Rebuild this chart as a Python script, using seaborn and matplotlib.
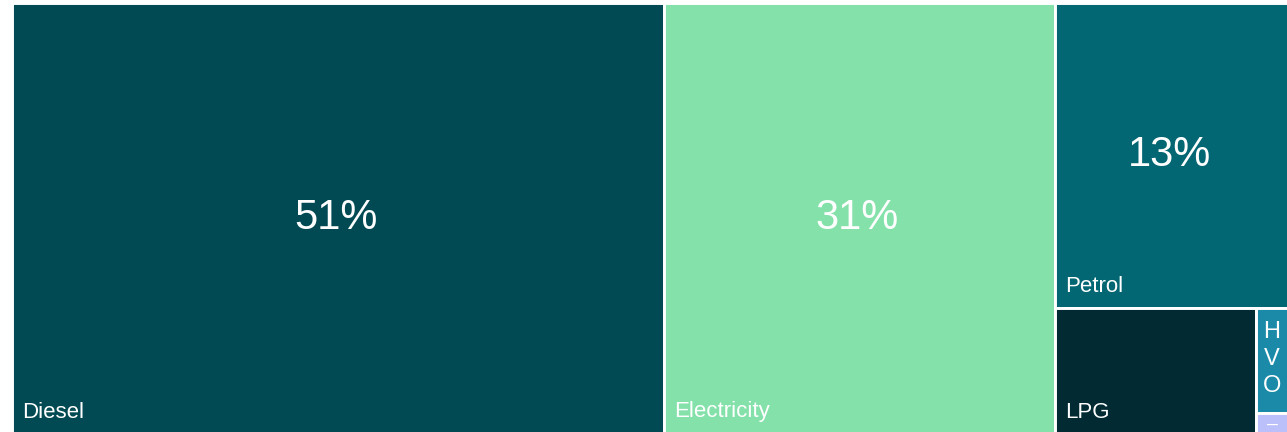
import matplotlib
matplotlib.use("Agg")
import matplotlib.pyplot as plt
from matplotlib.patches import Rectangle
import seaborn as sns

# fuel share data (percent of total)
fuels = ["Diesel", "Electricity", "Petrol", "LPG", "HVO", "Other"]
shares = [51.1, 30.6, 12.95, 4.6, 0.61, 0.12]
tile_labels = ["Diesel", "Electricity", "Petrol", "LPG", "H\nV\nO", "–"]
colors = ["#024a53", "#84e1aa", "#036673", "#012a32", "#1a8aa8", "#bcc0fa"]

W, H = 1276, 431  # layout canvas in pixels (runs slightly past the figure edge)


def layout(sizes, x, y, dx, dy):
    rects = []
    covered = sum(sizes)
    if dx >= dy:
        width = covered / dy
        for s in sizes:
            rects.append((x, y, width, s / width))
            y += s / width
    else:
        height = covered / dx
        for s in sizes:
            rects.append((x, y, s / height, height))
            x += s / height
    return rects


def leftover(sizes, x, y, dx, dy):
    covered = sum(sizes)
    if dx >= dy:
        width = covered / dy
        return x + width, y, dx - width, dy
    height = covered / dx
    return x, y + height, dx, dy - height


def worst(sizes, x, y, dx, dy):
    return max(max(w / h, h / w) for _, _, w, h in layout(sizes, x, y, dx, dy))


def squarify(sizes, x, y, dx, dy):
    if not sizes:
        return []
    if len(sizes) == 1:
        return layout(sizes, x, y, dx, dy)
    i = 1
    while i < len(sizes) and worst(sizes[:i], x, y, dx, dy) >= worst(sizes[:i + 1], x, y, dx, dy):
        i += 1
    current, remaining = sizes[:i], sizes[i:]
    return layout(current, x, y, dx, dy) + squarify(remaining, *leftover(current, x, y, dx, dy))


total = sum(shares)
areas = [s / total * W * H for s in shares]
rects = squarify(areas, 0, 0, W, H)

sns.set_theme(style="white")
plt.rcParams["font.family"] = ["Liberation Sans", "DejaVu Sans"]

fig = plt.figure(figsize=(12.87, 4.32), dpi=100)
ax = fig.add_axes([12 / 1287, -1.5 / 432, W / 1287, H / 432])
ax.set_xlim(0, W)
ax.set_ylim(H, 0)
ax.axis("off")

for (x, y, w, h), name, lab, col, s in zip(rects, fuels, tile_labels, colors, shares):
    ax.add_patch(Rectangle((x, y), w, h, facecolor=col, edgecolor="white", linewidth=2.1))
    pct = s / total * 100
    if pct >= 10:
        ax.text(x + w / 2 - 2, y + h / 2, f"{pct:.0f}%", color="white", fontsize=30,
                ha="center", va="center")
    if name == "HVO":
        ax.text(x + w / 2, y + 13, lab, color="white", fontsize=17, ha="center", va="top",
                linespacing=1.3)
    elif name == "Other":
        ax.text(x + w / 2, y + 3, lab, color="white", fontsize=14, ha="center", va="top")
    else:
        ax.text(x + 10, y + h - 16, lab, color="white", fontsize=16, ha="left", va="baseline")

fig.savefig("out.png", dpi=100, facecolor="white")
